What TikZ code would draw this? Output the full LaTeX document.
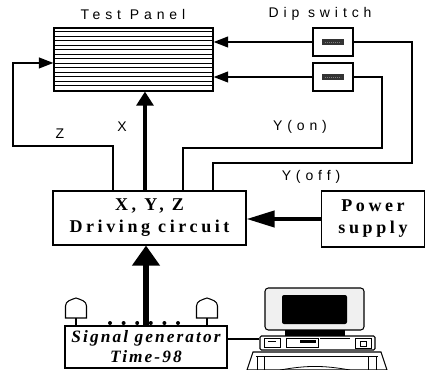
\documentclass[tikz,border=0pt]{standalone}
\usepackage{fontspec}
\setmainfont{Liberation Serif}
\newfontfamily\tagfont[LetterSpace=35]{Liberation Sans}
\newfontfamily\blockfont[LetterSpace=20]{Liberation Serif}
\newfontfamily\genfont[LetterSpace=12]{Liberation Serif}
\usetikzlibrary{arrows.meta,positioning}

\begin{document}
\begin{tikzpicture}[x=0.75pt, y=-0.75pt,
        box/.style={draw, line width=0.8pt, inner sep=0pt},
        wire/.style={line width=1.7pt},
        thin arrow/.style={wire, -{Triangle[length=11pt, width=8pt]}},
        x arrow/.style={line width=3pt, -{Triangle[length=10.5pt, width=12.5pt]}},
        power arrow/.style={line width=3pt, -{Triangle[length=21pt, width=12pt]}},
        gen arrow/.style={line width=5pt, -{Triangle[length=15pt, width=20pt]}},
        stripe/.style={line width=0.7pt},
        tag/.style={font=\tagfont\fontsize{10.5}{12}\selectfont, inner sep=0pt},
        block/.style={box, font=\blockfont\bfseries\fontsize{13.5}{16.5}\selectfont, align=center},
        genblock/.style={box, font=\genfont\bfseries\itshape\fontsize{13}{15}\selectfont, align=center},
        part/.style={line width=0.6pt}
    ]
        \useasboundingbox (0,0) rectangle (427,370);

        % Panel and switches
        \node[box, minimum width=119.25pt, minimum height=47.25pt] (panel) at (133.5,59.5) {};
        \foreach \k in {1,...,13}
            \draw[stripe] ([yshift=-\k*3.375pt]panel.north west) -- ([yshift=-\k*3.375pt]panel.north east);
        \node[box, minimum width=30pt, minimum height=21pt] (dipA) at (333,42) {};
        \node[box, minimum width=30pt, minimum height=21pt] (dipB) at (333,77) {};
        \foreach \d in {dipA,dipB} {
            \fill[black!80] ([xshift=-7.9pt, yshift=-2.3pt]\d.center) rectangle ([xshift=7.9pt, yshift=2.3pt]\d.center);
            \draw[gray, line width=0.6pt, dash pattern=on 0.6pt off 0.9pt] ([xshift=-6pt]\d.center) -- ([xshift=6pt]\d.center);
        }

        % Blocks
        \node[block, minimum width=144.75pt, minimum height=40.5pt] (driver) at (149.5,218) {X, Y, Z\\Driving circuit};
        \node[block, minimum width=77.25pt, minimum height=42pt] (power) at (373,219) {Power\\supply};
        \node[genblock, minimum width=121.5pt, minimum height=31.5pt] (siggen) at (146,347) {Signal generator\\Time-98};

        % Labels
        \node[tag] (lblPanel) at (133,14) {Test Panel};
        \node[tag] (lblDip) at (320,14) {Dip switch};
        \node[tag] (lblZ) at (60,134) {Z};
        \node[tag] (lblX) at (122,127) {X};
        \node[tag] (lblYon) at (300,127) {Y(on)};
        \node[tag] (lblYoff) at (311,177) {Y(off)};

        % Signal lines
        \coordinate (zc) at (13,146);
        \coordinate (onc) at (382,148);
        \coordinate (offc) at (412,163);
        \coordinate (xin) at ([xshift=-3.4pt]driver.north);
        \draw[thin arrow] ([xshift=-27.4pt]driver.north) |- (zc) |- ([yshift=-2.6pt]panel.west);
        \draw[x arrow] (xin) -- (xin |- panel.south);
        \draw[wire] ([xshift=25.1pt]driver.north) |- (onc) |- (dipB.east);
        \draw[wire] ([xshift=47.6pt]driver.north) |- (offc) |- (dipA.east);
        \draw[thin arrow] (dipA.west) -- (dipA.west -| panel.east);
        \draw[thin arrow] (dipB.west) -- (dipB.west -| panel.east);
        \draw[power arrow] (power.west) -- (power.west -| driver.east);
        \draw[gen arrow] (siggen.north) -- (siggen.north |- driver.south);

        % Generator lamps and pins
        \foreach \ax in {76,207} {
            \draw[line width=0.8pt] (\ax-10.5,318) -- (\ax-10.5,306) to[out=90, in=200] (\ax,298)
                to[out=-20, in=90] (\ax+10.5,306) -- (\ax+10.5,318) -- cycle;
            \draw[line width=0.8pt] (\ax,318) -- (\ax,326);
        }
        \foreach \i in {0,...,5}
            \fill (110+\i*13.6,323) circle (1.5pt);

        % Computer
        \node[box, rounded corners=1pt, minimum width=86.25pt, minimum height=10.5pt] (pc) at (317.5,343) {};
        \draw[line width=1.4pt] ([yshift=6pt]siggen.east) -- ([yshift=6pt]siggen.east -| pc.west);
        \draw[line width=0.8pt, rounded corners=2.5pt, fill=black!6] (265,288) rectangle (364,330);
        \fill[rounded corners=1.5pt] (282,295) rectangle (347,324);
        \fill (285,330) rectangle (345,336);
        \draw[part] (264,338) rectangle (280,347);
        \draw[part] (268,341) -- (276,341);
        \draw[part] (286,338) rectangle (318,347);
        \fill (300,340) rectangle (316,343);
        \draw[part] (320,338) -- (350,338);
        \draw[part] (355,338) rectangle (371,348);
        \draw[part] (360,341) rectangle (366,346);
        \draw[line width=0.8pt] (253,352) -- (381,352) -- (387,370) -- (247,370) -- cycle;
        \draw[part] (256,356) -- (378,356);
        \draw[part] (257,356) rectangle (264,370);
        \draw[part] (368,356) rectangle (376,370);
        \draw[part] (280,370) to[bend left=10] (350,370);
    \end{tikzpicture}
\end{document}
